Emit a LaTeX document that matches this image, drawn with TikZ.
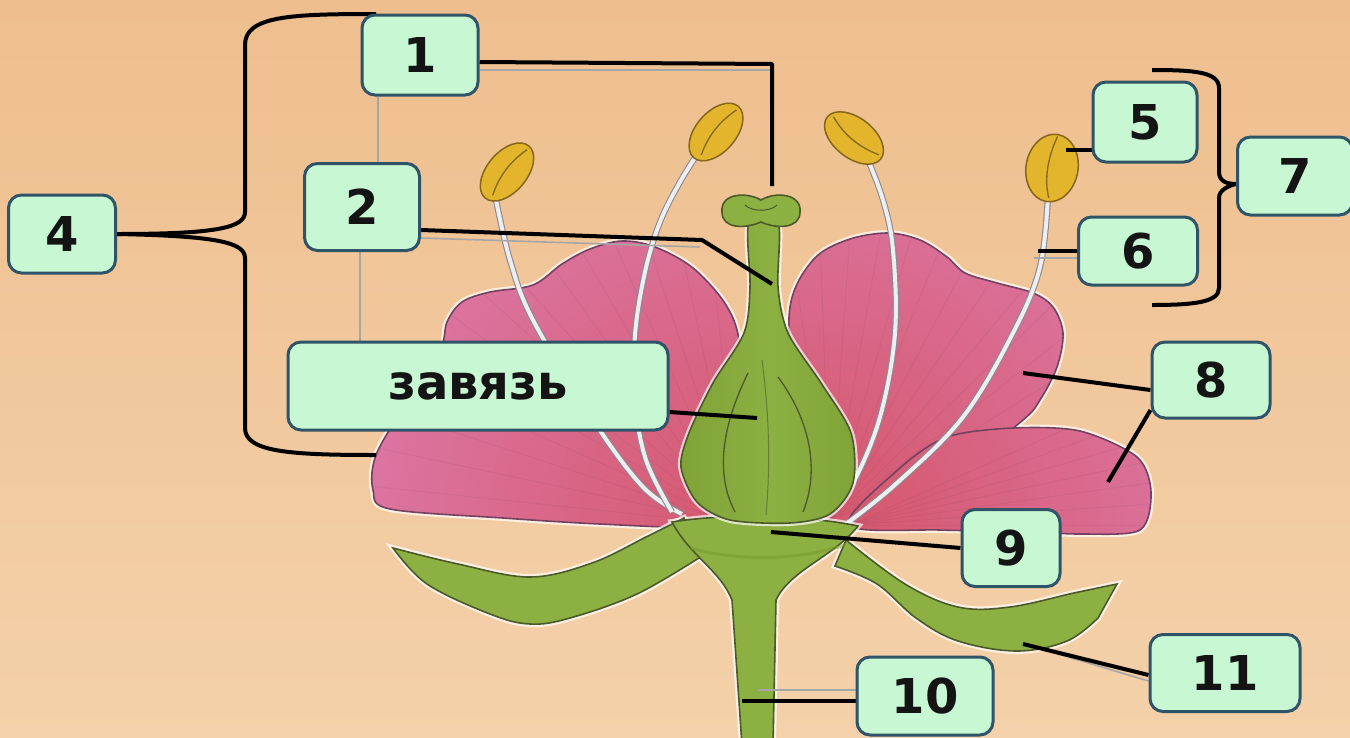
\documentclass[tikz,border=0pt]{standalone}
\usepackage{fontspec}
\setmainfont{DejaVu Sans}
\usetikzlibrary{calc}

\definecolor{bgtop}{HTML}{EEBE8E}
\definecolor{bgbot}{HTML}{F4D1AA}
\definecolor{boxfill}{HTML}{C8F7D4}
\definecolor{boxedge}{HTML}{2F5468}
\definecolor{petal}{HTML}{DC7AAA}
\definecolor{petaldeep}{HTML}{D6586E}
\definecolor{petaledge}{HTML}{744260}
\definecolor{leaf}{HTML}{8DB043}
\definecolor{leafdark}{HTML}{76982F}
\definecolor{leafedge}{HTML}{4B5A2A}
\definecolor{anther}{HTML}{E3B52C}
\definecolor{antheredge}{HTML}{86661C}
\definecolor{filament}{HTML}{EEEEEE}
\definecolor{filedge}{HTML}{8A8A94}

\pgfdeclarelayer{front}
\pgfsetlayers{main,front}

\begin{document}
\begin{tikzpicture}[x=1pt, y=-1pt,
  lbl/.style={draw=boxedge, line width=3pt, fill=boxfill, rounded corners=13pt,
    inner sep=0pt, text=black!92, font=\bfseries\fontsize{48}{50}\selectfont},
  conn/.style={draw=black, line width=4pt, line join=round},
  ghost/.style={draw=black!35, line width=1.6pt},
  brace/.style={draw=black, line width=4pt, line join=round},
  outl/.style={line width=1.6pt},
  halo/.style={draw=white, line width=6pt, opacity=0.7},
  filstyle/.style={draw=filedge, line width=1.1pt, double=filament, double distance=4pt},
  antherstyle/.style={fill=anther, draw=antheredge, line width=1.5pt},
  streak/.style={draw=petaledge, line width=1pt, opacity=0.1},
]
\useasboundingbox (0,0) rectangle (1350,737);
\fill[top color=bgtop, bottom color=bgbot] (0,0) rectangle (1350,737);

% ---------- label boxes (front layer) ----------
\begin{pgfonlayer}{front}
\node[lbl, minimum width=116pt, minimum height=80pt] (n1) at (420,55) {1};
\node[lbl, minimum width=115pt, minimum height=87pt] (n2) at (362,207) {2};
\node[lbl, minimum width=107pt, minimum height=78pt] (n4) at (62,234) {4};
\node[lbl, minimum width=380pt, minimum height=88pt] (n0) at (478,386) {завязь};
\node[lbl, minimum width=104pt, minimum height=80pt] (n5) at (1145,122) {5};
\node[lbl, minimum width=119pt, minimum height=68pt] (n6) at (1138,251) {6};
\node[lbl, minimum width=115pt, minimum height=78pt] (n7) at (1295,176) {7};
\node[lbl, minimum width=118pt, minimum height=76pt] (n8) at (1211,380) {8};
\node[lbl, minimum width=98pt, minimum height=77pt] (n9) at (1011,548) {9};
\node[lbl, minimum width=136pt, minimum height=78pt] (n10) at (925,696) {10};
\node[lbl, minimum width=150pt, minimum height=77pt] (n11) at (1225,673) {11};
\end{pgfonlayer}

% ---------- petals ----------
\def\petalL{plot[smooth cycle, tension=0.55] coordinates {(700,527) (600,524) (503,518) (390,509) (373,490) (376,455) (405,405) (440,350) (447,322) (462,302) (490,292) (533,285) (562,264) (590,249) (622,241) (655,247) (693,268) (726,305) (740,345) (748,440) (740,515)}}
\def\petalR{plot[smooth cycle, tension=0.55] coordinates {(800,520) (792,400) (790,307) (813,260) (847,240) (887,233) (920,240) (947,257) (965,273) (997,283) (1033,293) (1053,307) (1063,333) (1057,367) (1040,400) (1023,420) (960,468) (880,515)}}
\def\petalLow{plot[smooth cycle, tension=0.5] coordinates {(848,525) (900,468) (947,437) (1013,428) (1080,431) (1137,457) (1151,492) (1140,530) (1081,534) (1010,531) (940,530)}}

\draw[halo] \petalL;
\draw[halo] \petalR;
\draw[halo] \petalLow;

\begin{scope}
  \clip \petalL;
  \fill[petal] (350,220) rectangle (800,560);
  \shade[inner color=petaldeep, outer color=petal] (740,520) circle (440);
  \foreach \a in {186,192,...,264} \draw[streak] (740,525) -- ++(\a:420);
\end{scope}
\draw[petaledge, outl] \petalL;

\begin{scope}
  \clip \petalR;
  \fill[petal] (780,220) rectangle (1080,540);
  \shade[inner color=petaldeep, outer color=petal] (830,500) circle (420);
  \foreach \a in {262,268,...,340} \draw[streak] (830,520) -- ++(\a:330);
\end{scope}
\draw[petaledge, outl] \petalR;

\begin{scope}
  \clip \petalLow;
  \fill[petal] (840,420) rectangle (1160,540);
  \shade[inner color=petaldeep, outer color=petal] (860,520) circle (420);
  \foreach \a in {336,340,...,360} \draw[streak] (850,525) -- ++(\a:330);
\end{scope}
\draw[petaledge, outl] \petalLow;

% ---------- filaments ----------
\draw[filstyle] plot[smooth, tension=0.6] coordinates {(495,195) (510,260) (533,320) (593,420) (643,487) (682,514)};
\draw[filstyle] plot[smooth, tension=0.6] coordinates {(700,150) (680,182) (660,222) (645,272) (635,335) (635,400) (646,460) (672,512)};
\draw[filstyle] plot[smooth, tension=0.6] coordinates {(866,155) (883,200) (893,250) (895,333) (880,417) (853,483) (828,514)};
\draw[filstyle] plot[smooth, tension=0.6] coordinates {(1048,195) (1040,267) (1013,333) (963,417) (897,483) (846,524)};

% ---------- sepals, receptacle and stem ----------
\def\sepalL{plot[smooth, tension=0.6] coordinates {(393,548) (458,564) (530,577) (592,563) (646,537) (684,518)} -- plot[smooth, tension=0.6] coordinates {(702,556) (637,594) (570,618) (530,624) (490,614) (427,584) (393,548)} -- cycle}
\def\sepalR{plot[smooth, tension=0.6] coordinates {(846,540) (905,584) (958,607) (1010,607) (1074,593) (1117,584)} -- plot[smooth, tension=0.6] coordinates {(1098,618) (1067,641) (1017,651) (958,641) (916,618) (877,584) (835,566)} -- cycle}
\def\stemP{(672,522) .. controls (690,556) and (720,570) .. (732,600) -- (742,745) -- (773,745) -- (776,600) .. controls (790,570) and (835,556) .. (858,526) .. controls (800,514) and (720,514) .. (672,522) -- cycle}

\draw[halo] \sepalL;
\draw[halo] \sepalR;
\draw[halo] \stemP;
\filldraw[fill=leaf, draw=leafedge, outl] \sepalL;
\filldraw[fill=leaf, draw=leafedge, outl] \sepalR;
\filldraw[fill=leaf, draw=leafedge, outl] \stemP;
\draw[leafdark, line width=3pt, opacity=0.5] (690,548) .. controls (740,562) and (800,560) .. (845,545);

% ---------- pistil ----------
\def\pistil{plot[smooth cycle, tension=0.5] coordinates {(749,222) (750,287) (744,333) (713,383) (689,433) (681,467) (697,502) (730,520) (790,523) (830,514) (853,483) (851,433) (821,383) (788,333) (778,287) (778,222)}}
\draw[halo] \pistil;
\begin{scope}
  \clip \pistil;
  \fill[leaf] (670,200) rectangle (870,530);
  \shade[left color=leafdark, right color=leafdark, middle color=leaf, opacity=0.6] (670,200) rectangle (870,530);
\end{scope}
\draw[leafedge, outl] \pistil;
\draw[leafedge, line width=1.3pt] (748,373) .. controls (725,420) and (713,470) .. (735,512);
\draw[leafedge, line width=1.3pt] (778,377) .. controls (810,420) and (820,470) .. (803,512);
\draw[leafedge, line width=1pt, opacity=0.6] (762,360) .. controls (770,420) and (770,470) .. (766,515);

% stigma
\filldraw[fill=leaf, draw=leafedge, outl]
  (722,212) .. controls (720,194) and (745,191) .. (761,200)
  .. controls (776,191) and (802,194) .. (800,212)
  .. controls (800,229) and (776,229) .. (761,222)
  .. controls (745,229) and (722,229) .. (722,212) -- cycle;
\draw[leafedge, line width=1pt] (745,205) .. controls (752,212) and (770,212) .. (777,205);

% ---------- anthers ----------
\filldraw[antherstyle, rotate around={50:(507,172)}] (507,172) ellipse (34 and 20);
\draw[antheredge, line width=1.3pt, rotate around={50:(507,172)}] (480,176) .. controls (500,168) and (518,168) .. (537,173);
\filldraw[antherstyle, rotate around={49:(716,132)}] (716,132) ellipse (34 and 20);
\draw[antheredge, line width=1.3pt, rotate around={49:(716,132)}] (689,136) .. controls (709,128) and (727,128) .. (746,133);
\filldraw[antherstyle, rotate around={-38:(854,138)}] (854,138) ellipse (34 and 20);
\draw[antheredge, line width=1.3pt, rotate around={-38:(854,138)}] (825,134) .. controls (845,142) and (863,142) .. (884,136);
\filldraw[antherstyle, rotate around={80:(1052,168)}] (1052,168) ellipse (34 and 26);
\draw[antheredge, line width=1.3pt, rotate around={80:(1052,168)}] (1022,170) .. controls (1040,162) and (1062,162) .. (1084,168);

% ---------- pointer ends ----------
\coordinate (p1a) at (772,64);
\coordinate (p1) at (772,186);
\coordinate (p2a) at (702,240);
\coordinate (p2) at (772,284);
\coordinate (p0) at (757,418);
\coordinate (p5) at (1066,150);
\coordinate (p6) at (1038,251);
\coordinate (p8a) at (1023,373);
\coordinate (p8b) at (1108,482);
\coordinate (p9) at (771,532);
\coordinate (p10) at (742,701);
\coordinate (p11) at (1023,644);
\coordinate (g1) at (770,70);
\coordinate (g2) at (700,247);
\coordinate (g3) at (758,690);
\coordinate (g4) at (1034,258);
\coordinate (g5) at (1045,650);

% faint guide lines
\draw[ghost] ([xshift=-42pt]n1.south) -- ([xshift=16pt]n2.north);
\draw[ghost] ([xshift=-2pt]n2.south) -- ([xshift=-118pt]n0.north);
\draw[ghost] ([yshift=-15pt]n1.east) -- (g1);
\draw[ghost] ([yshift=-31pt]n2.east) -- (g2);
\draw[ghost] ([yshift=6pt]n10.west) -- (g3);
\draw[ghost] ([yshift=-7pt]n6.west) -- (g4);
\draw[ghost] ([yshift=-8pt]n11.west) -- (g5);

% pointers
\draw[conn] ([yshift=-7pt]n1.east) -- (p1a) -- (p1);
\draw[conn] ([yshift=-23pt]n2.east) -- (p2a) -- (p2);
\draw[conn] ([yshift=-26pt]n0.east) -- (p0);
\draw[conn] ([yshift=-28pt]n5.west) -- (p5);
\draw[conn] (n6.west) -- (p6);
\draw[conn] ([yshift=-10pt]n8.west) -- (p8a);
\draw[conn] ([yshift=-30pt]n8.west) -- (p8b);
\draw[conn] (n9.west) -- (p9);
\draw[conn] ([yshift=-5pt]n10.west) -- (p10);
\draw[conn] ([yshift=-2pt]n11.west) -- (p11);

% braces
\draw[brace] (376,14) .. controls (290,14) and (245,16) .. (245,45) -- (245,212) .. controls (245,228) and (215,234) .. (n4.east);
\draw[brace] (n4.east) .. controls (215,236) and (245,242) .. (245,258) -- (245,428) .. controls (245,452) and (290,455) .. (376,455);
\draw[brace] (1152,70) .. controls (1195,70) and (1219,72) .. (1219,88) -- (1219,172) .. controls (1219,182) and (1228,184) .. ([yshift=-8pt]n7.west);
\draw[brace] ([yshift=-8pt]n7.west) .. controls (1228,186) and (1219,190) .. (1219,198) -- (1219,288) .. controls (1219,302) and (1195,305) .. (1152,305);
\end{tikzpicture}
\end{document}
